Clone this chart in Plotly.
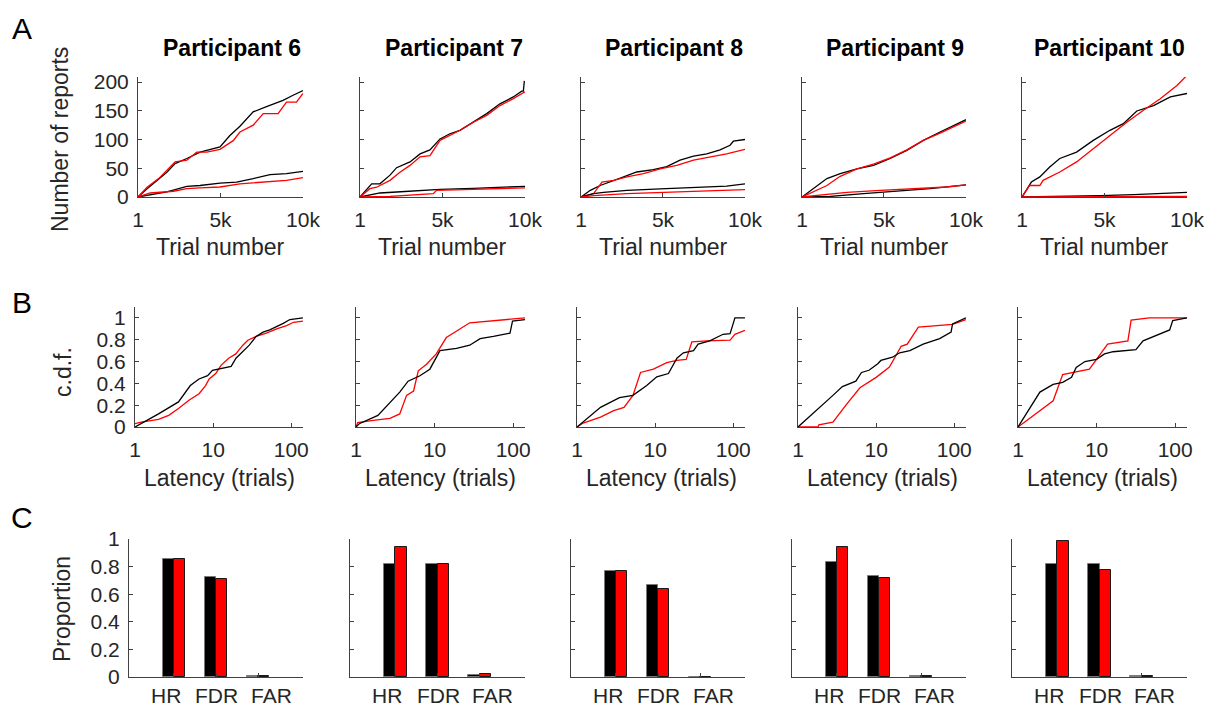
import plotly.graph_objects as go

W, H = 1217, 709
FONT = "Liberation Sans, Arial, sans-serif"
TXT = "#262626"
AX = "#404040"

participants = ["Participant 6", "Participant 7", "Participant 8", "Participant 9", "Participant 10"]

# ---------- Row A: cumulative number of reports vs trial number ----------
a_upper_black_x = [
    [1, 550, 1750, 2250, 2960, 3760, 4970, 5570, 6180, 6980, 7790, 8790, 9400, 10000],
    [1, 707, 1210, 1820, 2220, 3030, 3640, 4240, 4850, 5450, 6060, 6870, 7680, 8480, 9290, 9800, 9900, 9960],
    [1, 570, 1170, 1780, 2600, 3400, 4410, 5230, 6040, 6860, 7670, 8480, 9090, 9290, 10000],
    [1, 710, 1520, 2330, 3350, 4360, 5380, 6390, 7400, 8420, 9430, 10000],
    [1, 260, 570, 1080, 1680, 2290, 3310, 4320, 5330, 6140, 6960, 7970, 8990, 10000],
]
a_upper_black_y = [
    [0, 14.5, 43, 58, 67, 78, 87, 107, 123, 148, 157, 168, 177, 185],
    [0, 23, 23, 38, 51, 61, 75, 82, 101, 110, 116, 130, 145, 162, 174, 184, 184, 202],
    [0, 11.6, 20, 26, 35, 43.5, 47.5, 53, 64, 71, 75, 82, 90, 97, 100],
    [0, 14.5, 32, 40.6, 49, 55, 67, 81, 98.5, 113, 127.5, 134.5],
    [0, 11.6, 26, 35, 52, 67, 78, 98.5, 116, 127.5, 149.6, 159, 174, 180],
]
a_upper_red_x = [
    [1, 550, 1250, 2250, 2960, 3560, 4170, 4970, 5770, 6180, 6980, 7590, 8490, 9000, 9600, 10000],
    [1, 600, 1010, 1820, 2420, 3030, 3640, 4240, 4850, 5450, 6060, 6870, 7680, 8480, 9290, 10000],
    [1, 770, 1280, 1990, 2800, 3810, 4830, 5840, 6860, 7870, 8880, 10000],
    [1, 710, 1520, 2330, 3350, 4360, 5380, 6390, 7400, 8420, 9430, 10000],
    [1, 470, 1080, 1280, 2290, 3310, 4320, 5330, 6350, 7360, 8380, 9390, 10000],
]
a_upper_red_y = [
    [0, 17, 32, 61, 64, 78, 78, 83, 98, 113, 125, 145, 145, 165, 165, 180],
    [0, 14.5, 17, 29, 43, 55, 70, 72, 98.5, 107, 116, 130, 142, 159, 171, 183],
    [0, 6, 26, 29, 35, 40.6, 49, 55, 64, 70, 75, 83],
    [0, 8.7, 20, 36, 49, 57, 68, 82, 98.5, 111, 124.6, 132],
    [0, 20, 20, 29, 43.5, 61, 84, 107, 130, 151, 171, 194, 211.6],
]
a_lower_black_x = [
    [1, 1750, 2960, 3760, 4970, 5980, 6980, 8000, 9000, 10000],
    [1, 1210, 2220, 3840, 4850, 6870, 8880, 10000],
    [1, 770, 1380, 2800, 4830, 6860, 8880, 10000],
    [1, 1720, 3750, 5780, 7810, 10000],
    [1, 2710, 4740, 6760, 8780, 10000],
]
a_lower_black_y = [
    [0, 9, 18.5, 20, 24, 26, 32, 39, 40.5, 44.6],
    [0, 7, 8.7, 11.6, 13.3, 15, 16.8, 18.5],
    [0, 6, 8, 11.6, 14, 16, 19, 23],
    [0, 1, 5.8, 10.4, 14.5, 21],
    [0, 0.6, 2.3, 4, 5.8, 8],
]
a_lower_red_x = [
    [1, 740, 2150, 2960, 3760, 4970, 6180, 7790, 9000, 10000],
    [1, 1820, 4440, 4650, 6870, 8880, 10000],
    [1, 770, 2800, 4830, 6860, 8880, 10000],
    [1, 1120, 2740, 4770, 6800, 8820, 10000],
    [1, 5000, 10000],
]
a_lower_red_y = [
    [0, 7, 10, 14.5, 16, 17.4, 23, 26, 29, 33.6],
    [0, 1, 5.8, 11.6, 13.3, 15, 16],
    [0, 2.3, 5.8, 8, 10, 11.6, 12.8],
    [0, 3, 8, 11.6, 14.5, 17.4, 21],
    [0, 0.5, 1],
]

# ---------- Row B: c.d.f. of report latency ----------
b_black_x = [
    [1, 2, 3.6, 5.1, 6.6, 8.5, 9.8, 14.6, 17, 19.6, 24, 29, 35.5, 43.5, 53, 65, 79, 96, 141],
    [1, 1.1, 1.9, 3.6, 4.6, 6.5, 8.7, 11.7, 19, 28, 31, 38, 56, 83, 91, 98, 141],
    [1, 2, 3.5, 5.2, 7.8, 10.5, 14.8, 19, 23, 31, 35.5, 50, 74, 91, 105, 141],
    [1, 1.55, 2.8, 3.7, 5.5, 6.5, 8.1, 10.5, 11.5, 16.2, 20, 27, 40, 65, 91, 95, 123, 141],
    [1, 1.9, 2.8, 3.7, 4.8, 5.5, 7.1, 10, 12.6, 16.2, 31.6, 39, 85, 93, 141],
]
b_black_y = [
    [0, 0.12, 0.23, 0.38, 0.44, 0.47, 0.52, 0.55, 0.556, 0.63, 0.69, 0.75, 0.83, 0.87, 0.89, 0.92, 0.95, 0.985, 1.0],
    [0, 0.03, 0.106, 0.32, 0.42, 0.47, 0.53, 0.70, 0.72, 0.75, 0.77, 0.81, 0.83, 0.85, 0.86, 0.97, 0.985],
    [0, 0.18, 0.27, 0.29, 0.38, 0.46, 0.49, 0.63, 0.68, 0.70, 0.76, 0.79, 0.85, 0.855, 1.0, 1.0],
    [0, 0.12, 0.29, 0.37, 0.42, 0.5, 0.52, 0.58, 0.61, 0.64, 0.68, 0.70, 0.76, 0.81, 0.87, 0.945, 0.985, 1.0],
    [0, 0.32, 0.39, 0.41, 0.455, 0.545, 0.6, 0.62, 0.67, 0.69, 0.71, 0.79, 0.89, 0.975, 1.0],
]
b_red_x = [
    [1, 1.2, 2, 2.7, 3.6, 4.9, 6.6, 8, 8.9, 10.8, 12.6, 15.8, 19.5, 24, 27.8, 35.5, 48, 65, 87, 107, 141],
    [1, 1.05, 1.66, 2.7, 3.6, 4.4, 5.4, 6.2, 7.9, 10.5, 14.1, 28, 141],
    [1, 1.2, 2, 2.95, 4, 5.2, 6.5, 9.5, 14.1, 19, 25, 29.5, 46, 91, 105, 141],
    [1, 1.8, 1.85, 2.8, 4.2, 6.2, 10, 14.8, 20.9, 25, 34.7, 95, 141],
    [1, 2.8, 3.7, 8.1, 13.8, 25, 27.5, 46.8, 141],
]
b_red_y = [
    [0.03, 0.045, 0.07, 0.107, 0.17, 0.245, 0.305, 0.38, 0.44, 0.49, 0.565, 0.63, 0.67, 0.75, 0.795, 0.83, 0.86, 0.9, 0.93, 0.96, 0.97],
    [0, 0.04, 0.06, 0.08, 0.12, 0.29, 0.33, 0.515, 0.575, 0.67, 0.82, 0.955, 1.0],
    [0, 0.036, 0.09, 0.15, 0.18, 0.29, 0.5, 0.53, 0.59, 0.61, 0.62, 0.78, 0.79, 0.797, 0.85, 0.885],
    [0, 0.0, 0.02, 0.045, 0.21, 0.36, 0.455, 0.55, 0.74, 0.76, 0.915, 0.94, 0.985],
    [0, 0.24, 0.48, 0.53, 0.76, 0.79, 0.98, 1.0, 1.0],
]

# ---------- Row C: hit rate, false discovery rate, false alarm rate ----------
c_categories = ["HR", "FDR", "FAR"]
c_black = [
    [0.855, 0.725, 0.010],
    [0.82, 0.82, 0.013],
    [0.77, 0.665, 0.003],
    [0.83, 0.73, 0.006],
    [0.82, 0.82, 0.008],
]
c_red = [
    [0.855, 0.71, 0.008],
    [0.94, 0.82, 0.02],
    [0.765, 0.64, 0.003],
    [0.94, 0.72, 0.007],
    [0.985, 0.775, 0.008],
]
# category label nudges (axis units) so the three labels do not collide
c_label_shift = [-0.19, 0.02, 0.31]

# ---------- layout geometry (pixels) ----------
right_px = [303, 525, 745, 966, 1187]
left_px = {
    "A": [138, 360, 581, 802, 1022],
    "B": [135, 356, 577, 798, 1018],
    "C": [129, 350, 571, 792, 1012],
}
row_top_bottom = {"A": (77, 197), "B": (307, 427), "C": (539, 677)}


def xdom(row, i):
    return [left_px[row][i] / W, right_px[i] / W]


def ydom(row):
    t, b = row_top_bottom[row]
    return [(H - b) / H, (H - t) / H]


fig = go.Figure()
layout = dict(
    template="none",
    width=W, height=H, margin=dict(l=0, r=0, t=0, b=0, pad=0, autoexpand=False),
    paper_bgcolor="white", plot_bgcolor="white",
    showlegend=False, font=dict(family=FONT, color=TXT, size=21),
)

TICK_SIZE = 21
TITLE_SIZE = 23

common_axis = dict(
    showline=True, linecolor=AX, linewidth=1, showgrid=False, zeroline=False, automargin=False,
    ticks="inside", ticklen=4, tickcolor=AX, tickwidth=1, mirror=False, tickangle=0,
    tickfont=dict(family=FONT, size=TICK_SIZE, color=TXT),
)

rows = ["A", "B", "C"]
annotations = []
for r_i, row in enumerate(rows):
    for i in range(5):
        n = r_i * 5 + i + 1
        xa = "x" if n == 1 else f"x{n}"
        ya = "y" if n == 1 else f"y{n}"
        xkey = "xaxis" if n == 1 else f"xaxis{n}"
        ykey = "yaxis" if n == 1 else f"yaxis{n}"
        xax = dict(common_axis, domain=xdom(row, i), anchor=ya)
        yax = dict(common_axis, domain=ydom(row), anchor=xa)
        if row == "A":
            xax.update(range=[1, 10000], tickvals=[1, 5000, 10000], ticktext=["1", "5k", "10k"],
                       ticklabelstandoff=4)
            yax.update(range=[0, 208.7], tickvals=[0, 50, 100, 150, 200])
            for xs, ys, col in [
                (a_upper_black_x[i], a_upper_black_y[i], "black"),
                (a_upper_red_x[i], a_upper_red_y[i], "#ff0000"),
                (a_lower_black_x[i], a_lower_black_y[i], "black"),
                (a_lower_red_x[i], a_lower_red_y[i], "#ff0000"),
            ]:
                fig.add_trace(go.Scatter(x=xs, y=ys, mode="lines", line=dict(color=col, width=1.3),
                                         xaxis=xa, yaxis=ya))
        elif row == "B":
            xax.update(type="log", range=[0, 2.15], tickvals=[1, 10, 100], ticktext=["1", "10", "100"],
                       ticklabelstandoff=4)
            yax.update(range=[0, 1.1], tickvals=[0, 0.2, 0.4, 0.6, 0.8, 1],
                       ticktext=["0", "0.2", "0.4", "0.6", "0.8", "1"])
            for xs, ys, col in [
                (b_red_x[i], b_red_y[i], "#ff0000"),
                (b_black_x[i], b_black_y[i], "black"),
            ]:
                fig.add_trace(go.Scatter(x=xs, y=ys, mode="lines", line=dict(color=col, width=1.3),
                                         xaxis=xa, yaxis=ya))
        else:
            xax.update(range=[-0.07, 4.07], tickvals=[1, 2, 3], showticklabels=False)
            yax.update(range=[0, 1], tickvals=[0, 0.2, 0.4, 0.6, 0.8, 1],
                       ticktext=["0", "0.2", "0.4", "0.6", "0.8", "1"])
            fig.add_trace(go.Bar(x=[1, 2, 3], y=c_black[i], width=0.27, offset=-0.27,
                                 marker=dict(color="black", line=dict(color="#7a7a7a", width=1)),
                                 xaxis=xa, yaxis=ya))
            fig.add_trace(go.Bar(x=[1, 2, 3], y=c_red[i], width=0.27, offset=0,
                                 marker=dict(color="#ff0000", line=dict(color="#1a1a1a", width=1)),
                                 xaxis=xa, yaxis=ya))
            for k, cat in enumerate(c_categories):
                annotations.append(dict(text=cat, x=k + 1 + c_label_shift[k], xref=xa,
                                        y=0, yref="paper", xanchor="center",
                                        yanchor="bottom", showarrow=False,
                                        font=dict(family=FONT, size=21, color=TXT)))
        if i > 0:
            yax.update(showticklabels=False)
        else:
            yax.update(ticklabelstandoff=4)
        layout[xkey] = xax
        layout[ykey] = yax

# participant titles, right-aligned to each column
for i, name in enumerate(participants):
    annotations.append(dict(text=f"<b>{name}</b>", x=right_px[i] / W, y=(H - 48) / H,
                            xref="paper", yref="paper", xanchor="right", yanchor="middle",
                            showarrow=False, font=dict(family=FONT, size=TITLE_SIZE, color="black")))

# x axis titles
for i in range(5):
    cxA = (left_px["A"][i] + right_px[i]) / 2 / W
    cxB = (left_px["B"][i] + right_px[i]) / 2 / W
    annotations.append(dict(text="Trial number", x=cxA, y=(H - 247) / H, xref="paper", yref="paper",
                            xanchor="center", yanchor="middle", showarrow=False,
                            font=dict(family=FONT, size=TITLE_SIZE, color=TXT)))
    annotations.append(dict(text="Latency (trials)", x=cxB, y=(H - 478) / H, xref="paper", yref="paper",
                            xanchor="center", yanchor="middle", showarrow=False,
                            font=dict(family=FONT, size=TITLE_SIZE, color=TXT)))

# y axis titles
for text, xc, yc in [("Number of reports", 60, 140), ("c.d.f.", 63, 372), ("Proportion", 62, 609)]:
    annotations.append(dict(text=text, x=xc / W, y=(H - yc) / H, xref="paper", yref="paper",
                            xanchor="center", yanchor="middle", textangle=-90, showarrow=False,
                            font=dict(family=FONT, size=TITLE_SIZE, color=TXT)))

# panel letters
for text, yc in [("A", 28), ("B", 302), ("C", 517)]:
    annotations.append(dict(text=text, x=22 / W, y=(H - yc) / H, xref="paper", yref="paper",
                            xanchor="center", yanchor="middle", showarrow=False,
                            font=dict(family=FONT, size=30, color="black")))

layout["annotations"] = annotations
layout["bargap"] = 0
fig.update_layout(**layout)
fig.write_html("out.html")
